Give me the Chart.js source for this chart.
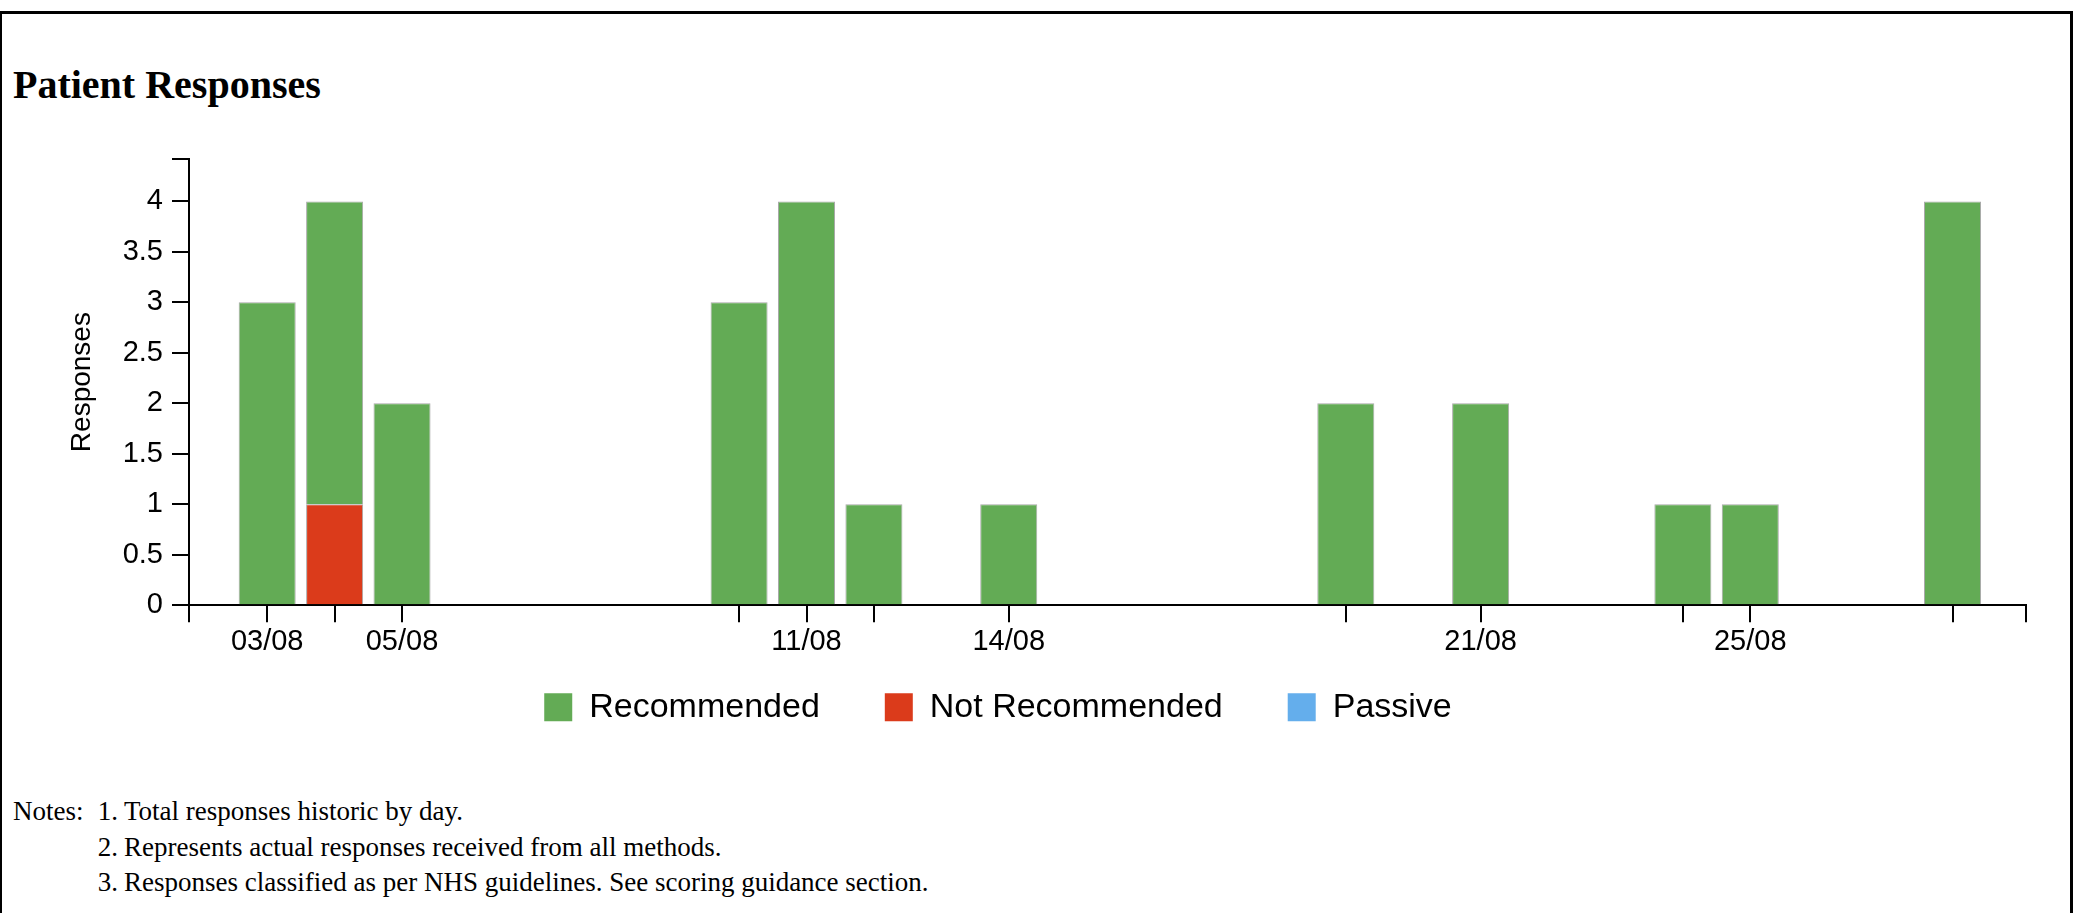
<!DOCTYPE html>
<html>
<head>
<meta charset="utf-8">
<script src="https://cdn.jsdelivr.net/npm/chart.js@4.4.1/dist/chart.umd.min.js"></script>
<style>
html,body{margin:0;padding:0;background:#fff;width:2083px;height:913px;overflow:hidden;}
#frame{position:absolute;left:0;top:11px;width:2068px;height:960px;border-top:3px solid #000;border-left:2px solid #000;border-right:3px solid #000;}
#title{position:absolute;left:13px;top:65px;font:bold 40px 'Liberation Serif','Times New Roman',serif;line-height:1;color:#000;white-space:nowrap;}
#chart{position:absolute;left:-30px;top:119px;}
.nl{position:absolute;white-space:nowrap;line-height:1;font:27px 'Liberation Serif','Times New Roman',serif;color:#000;}
.num{text-align:right;width:30px;}
</style>
</head>
<body>
<div id="frame"></div>
<div id="title">Patient Responses</div>
<canvas id="chart" width="2060" height="651"></canvas>
<div class="nl" style="left:13px;top:796px;">Notes:</div>
<div class="nl num" style="left:88px;top:796px;">1.</div>
<div class="nl" style="left:124px;top:796px;">Total responses historic by day.</div>
<div class="nl num" style="left:88px;top:832px;">2.</div>
<div class="nl" style="left:124px;top:832px;">Represents actual responses received from all methods.</div>
<div class="nl num" style="left:88px;top:867px;">3.</div>
<div class="nl" style="left:124px;top:867px;">Responses classified as per NHS guidelines. See scoring guidance section.</div>
<script>
// ---- data (day of August) ----
const days           = [3, 4, 5, 10, 11, 12, 14, 19, 21, 24, 25, 28];
const recommended    = [3, 3, 2, 3, 4, 1, 1, 2, 2, 1, 1, 4];
const notRecommended = [0, 1, 0, 0, 0, 0, 0, 0, 0, 0, 0, 0];
const passive        = [0, 0, 0, 0, 0, 0, 0, 0, 0, 0, 0, 0];
const labeledDays    = [3, 5, 11, 14, 21, 25];
const yTickValues    = [0, 0.5, 1, 1.5, 2, 2.5, 3, 3.5, 4];
const monthLabel     = '08';
const seriesNames    = ['Recommended', 'Not Recommended', 'Passive'];

// axis domain
const xMin = 1.84, xMax = 29.09, yMax = 4.42;

const FONT = "'Liberation Sans', Arial, Helvetica, sans-serif";
const pad2 = d => (d < 10 ? '0' : '') + d;
const toPoints = arr => days.map((d, i) => ({x: d, y: arr[i]})).filter(p => p.y > 0);

const datasets = [
  {label: seriesNames[1], data: toPoints(notRecommended), backgroundColor: '#db3b1b'},
  {label: seriesNames[0], data: toPoints(recommended), backgroundColor: '#63ab55'},
  {label: seriesNames[2], data: toPoints(passive), backgroundColor: '#64aeec'}
];

const axisGrid = {drawOnChartArea: false, drawTicks: true, tickLength: 17, color: '#000', lineWidth: 2, offset: false};
const axisBorder = {display: true, color: '#000', width: 2};

// keep the legend close under the axis labels (its label padding is also used as item spacing)
const legendGap = {
  id: 'legendGap',
  afterLayout(chart) {
    const l = chart.legend;
    const dy = l.top - (chart.chartArea.bottom + 20);
    l.top -= dy; l.bottom -= dy;
  }
};

new Chart(document.getElementById('chart'), {
  type: 'bar',
  data: {datasets},
  plugins: [legendGap],
  options: {
    responsive: false,
    animation: false,
    layout: {padding: {top: 40, right: 4, bottom: 0, left: 0}},
    datasets: {bar: {categoryPercentage: 1, barPercentage: 0.846, borderWidth: 1, borderColor: '#a9a9a9'}},
    plugins: {
      tooltip: {enabled: false},
      title: {display: false},
      legend: {
        position: 'bottom',
        align: 'center',
        labels: {
          boxWidth: 28, boxHeight: 28, padding: 65, color: '#000',
          font: {family: FONT, size: 34},
          sort: (a, b) => seriesNames.indexOf(a.text) - seriesNames.indexOf(b.text),
          generateLabels: chart => Chart.defaults.plugins.legend.labels.generateLabels(chart)
            .map(l => Object.assign(l, {lineWidth: 0, strokeStyle: 'rgba(0,0,0,0)'}))
        }
      }
    },
    scales: {
      x: {
        type: 'linear', stacked: true, min: xMin, max: xMax, offset: false,
        grid: axisGrid, border: axisBorder,
        ticks: {
          autoSkip: false, maxRotation: 0, minRotation: 0, padding: 2, color: '#000',
          font: {family: FONT, size: 29},
          callback: v => labeledDays.includes(v) ? pad2(v) + '/' + monthLabel : ''
        },
        afterBuildTicks: s => { s.ticks = [xMin, ...days, xMax].map(v => ({value: v})); }
      },
      y: {
        type: 'linear', stacked: true, min: 0, max: yMax,
        grid: axisGrid, border: axisBorder,
        ticks: {
          padding: 9, color: '#000', font: {family: FONT, size: 29},
          callback: v => yTickValues.includes(v) ? String(v) : ''
        },
        afterBuildTicks: s => { s.ticks = [...yTickValues, yMax].map(v => ({value: v})); },
        afterFit: s => { s.width = 219; },
        title: {display: true, text: 'Responses', color: '#000', font: {family: FONT, size: 28}, padding: {top: 95, bottom: 0}}
      }
    }
  }
});
</script>
</body>
</html>
